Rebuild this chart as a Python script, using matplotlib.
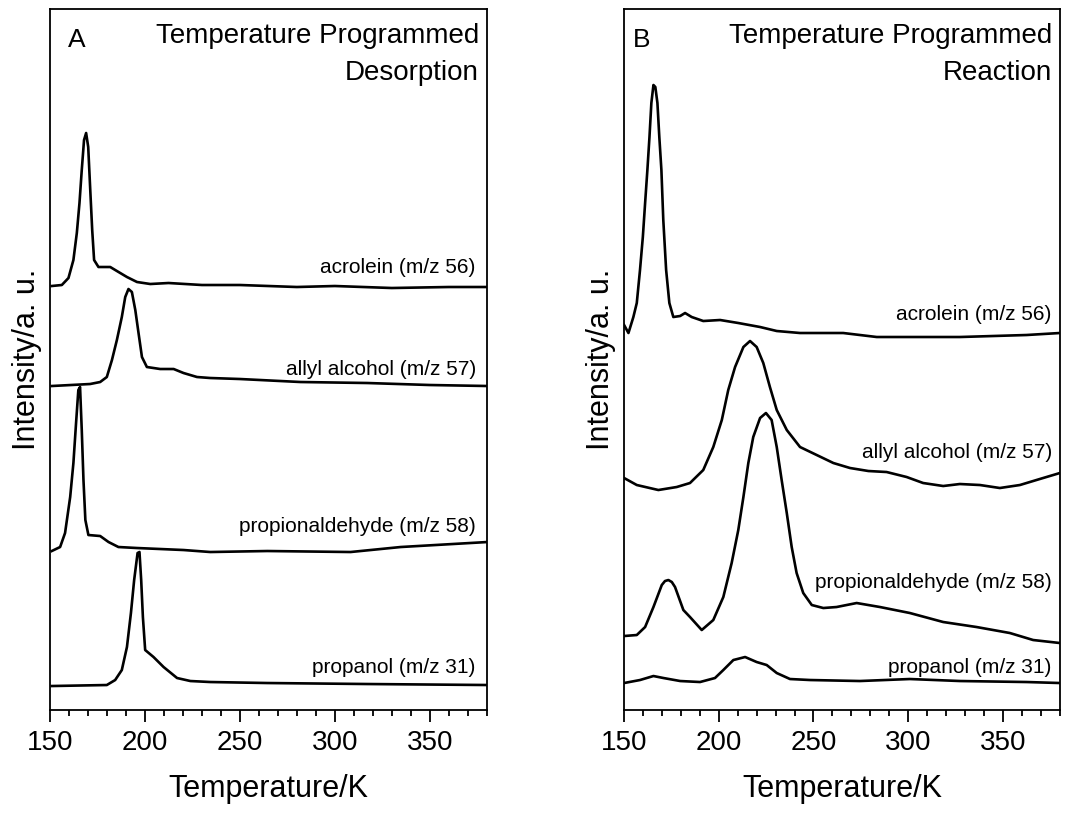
import matplotlib.pyplot as plt
from matplotlib.ticker import MultipleLocator

plt.rcParams['font.family'] = ['Liberation Sans', 'DejaVu Sans']

# ---- panel A: temperature programmed desorption (intensity in a.u., traces already offset)
tpd_acrolein_T = [150.9, 156.2, 159.7, 162.3, 164.1, 165.5, 166.7, 167.9, 169.0, 170.1, 171.1,
                  172.2, 173.2, 175.5, 181.7, 185.2, 190.5, 195.8, 202.8, 212.4, 230, 250,
                  280, 300, 330, 360, 380]
tpd_acrolein_I = [424, 425, 432, 450, 477, 507, 540, 570, 577, 563, 523,
                  480, 450, 443, 443, 439, 433, 428, 426, 427, 425, 425,
                  423, 424, 422, 423, 423]

tpd_allyl_T = [150.9, 171.1, 176.4, 179.9, 182.6, 185.2, 187.8, 189.6, 191.3, 193.1, 194.9,
               196.6, 198.4, 201.0, 208.0, 215.1, 220.3, 227.4, 234.4, 250, 281.9, 317.1, 350, 380.4]
tpd_allyl_I = [324, 326, 328, 333, 350, 370, 393, 413, 421, 418, 400,
               377, 353, 343, 341, 341, 337, 333, 332, 331, 328, 327, 325, 324]

tpd_propanal_T = [150.9, 155.3, 157.9, 160.6, 162.3, 163.7, 164.9, 165.8, 166.7, 167.6, 168.6,
                  170.2, 176.4, 180.8, 186.0, 195.8, 220.3, 234.4, 264.4, 308.3, 334.7, 380.4]
tpd_propanal_I = [159, 163, 177, 213, 247, 287, 320, 323, 280, 230, 190,
                  175, 174, 168, 163, 162, 160, 158, 159, 158, 163, 168]

tpd_propanol_T = [150.9, 179.9, 184.3, 187.8, 190.5, 192.6, 194.3, 196.1, 197.1, 198.0, 198.9,
                  200.1, 204.5, 209.8, 216.9, 223.9, 234.4, 264.4, 317.1, 380.4]
tpd_propanol_I = [24, 25, 30, 40, 63, 97, 130, 157, 158, 130, 93,
                  60, 53, 43, 32, 29, 28, 27, 26, 25]

# ---- panel B: temperature programmed reaction
tpr_acrolein_T = [150.0, 152.3, 154.9, 156.7, 158.4, 159.9, 161.1, 162.3, 163.4, 164.4, 165.5,
                  166.5, 167.6, 168.6, 169.7, 170.7, 172.2, 173.9, 176.0, 179.6, 182.2, 185.7,
                  191.8, 200.7, 210.3, 221.8, 230.6, 242.9, 265.7, 283.4, 327.3, 362.5, 380.1]
tpr_acrolein_I = [385, 377, 393, 407, 440, 473, 507, 540, 573, 607, 625,
                  623, 607, 573, 540, 490, 440, 407, 393, 394, 397, 393,
                  389, 390, 387, 383, 379, 377, 377, 373, 373, 375, 377]

tpr_allyl_T = [150.0, 156.7, 168.1, 177.8, 184.8, 191.8, 197.1, 201.6, 205.0, 208.6, 213.0,
               216.5, 220.0, 223.5, 227.0, 230.6, 235.9, 242.9, 251.7, 260.5, 269.3, 279,
               288.6, 299.2, 307.9, 318.5, 327.3, 337.9, 348.4, 359.0, 369.5, 380.1]
tpr_allyl_I = [232, 225, 220, 223, 227, 240, 263, 290, 320, 343, 363,
               369, 363, 347, 323, 300, 280, 263, 255, 247, 242, 239,
               238, 233, 227, 224, 226, 225, 222, 225, 231, 237]

tpr_propanal_T = [150.0, 156.7, 161.1, 165.5, 169.9, 171.6, 173.4, 175.2, 176.9, 181.3, 184.8,
                  191.0, 197.1, 202.4, 206.8, 210.3, 213.0, 215.6, 218.2, 221.8, 224.9, 227.9,
                  230.6, 233.2, 235.9, 238.5, 241.1, 244.6, 249.1, 255.2, 262.2, 272.8, 285.1,
                  300.9, 318.5, 336.1, 353.7, 366.0, 380.1]
tpr_propanal_I = [74, 75, 83, 103, 125, 129, 130, 128, 123, 100, 93,
                  80, 90, 113, 147, 180, 213, 247, 273, 292, 297, 290,
                  263, 230, 197, 163, 137, 117, 105, 102, 103, 107, 103,
                  97, 88, 83, 77, 70, 67]

tpr_propanol_T = [150.0, 158.4, 165.5, 170.8, 179.6, 190.1, 198.0, 202.4, 207.7, 213.9, 220.0,
                  225.3, 230.6, 237.6, 248.2, 274.5, 300.9, 327.3, 362.5, 380.1]
tpr_propanol_I = [27, 30, 34, 32, 29, 28, 32, 40, 50, 53, 48,
                  45, 37, 31, 30, 29, 31, 29, 28, 27]

names = ['acrolein (m/z 56)', 'allyl alcohol (m/z 57)',
         'propionaldehyde (m/z 58)', 'propanol (m/z 31)']

fig = plt.figure(figsize=(10.65, 8.18), dpi=100)
ax_a = fig.add_axes([0.047, 0.132, 0.410, 0.857])
ax_b = fig.add_axes([0.586, 0.132, 0.409, 0.857])

for T, I in [(tpd_acrolein_T, tpd_acrolein_I), (tpd_allyl_T, tpd_allyl_I),
             (tpd_propanal_T, tpd_propanal_I), (tpd_propanol_T, tpd_propanol_I)]:
    ax_a.plot(T, I, 'k-', lw=1.9, solid_joinstyle='round')

for T, I in [(tpr_acrolein_T, tpr_acrolein_I), (tpr_allyl_T, tpr_allyl_I),
             (tpr_propanal_T, tpr_propanal_I), (tpr_propanol_T, tpr_propanol_I)]:
    ax_b.plot(T, I, 'k-', lw=1.9, solid_joinstyle='round')

for ax in [ax_a, ax_b]:
    ax.set_xlim(150, 380)
    ax.set_ylim(0, 701)
    ax.set_yticks([])
    ax.xaxis.set_major_locator(MultipleLocator(50))
    ax.xaxis.set_minor_locator(MultipleLocator(10))
    ax.tick_params(axis='x', which='major', direction='out', length=8.5, width=1.3,
                   labelsize=20, pad=6)
    ax.tick_params(axis='x', which='minor', direction='out', length=4.3, width=1.3)
    for s in ax.spines.values():
        s.set_linewidth(1.3)
    ax.set_xlabel('Temperature/K', fontsize=22, labelpad=13)
    ax.set_ylabel('Intensity/a. u.', fontsize=22, labelpad=6)

# panel letters and titles
ax_a.text(0.041, 0.946, 'A', transform=ax_a.transAxes, fontsize=19)
ax_a.text(0.982, 0.952, 'Temperature Programmed', transform=ax_a.transAxes,
          fontsize=20, ha='right', va='baseline')
ax_a.text(0.982, 0.899, 'Desorption', transform=ax_a.transAxes,
          fontsize=20, ha='right', va='baseline')

ax_b.text(0.021, 0.946, 'B', transform=ax_b.transAxes, fontsize=19)
ax_b.text(0.982, 0.952, 'Temperature Programmed', transform=ax_b.transAxes,
          fontsize=20, ha='right', va='baseline')
ax_b.text(0.982, 0.899, 'Reaction', transform=ax_b.transAxes,
          fontsize=20, ha='right', va='baseline')

# trace labels
for name, y in zip(names, [0.623, 0.478, 0.254, 0.053]):
    ax_a.text(0.975, y, name, transform=ax_a.transAxes, fontsize=15,
              ha='right', va='baseline')
for name, y in zip(names, [0.556, 0.359, 0.174, 0.053]):
    ax_b.text(0.982, y, name, transform=ax_b.transAxes, fontsize=15,
              ha='right', va='baseline')

fig.savefig('out.png', dpi=100)
